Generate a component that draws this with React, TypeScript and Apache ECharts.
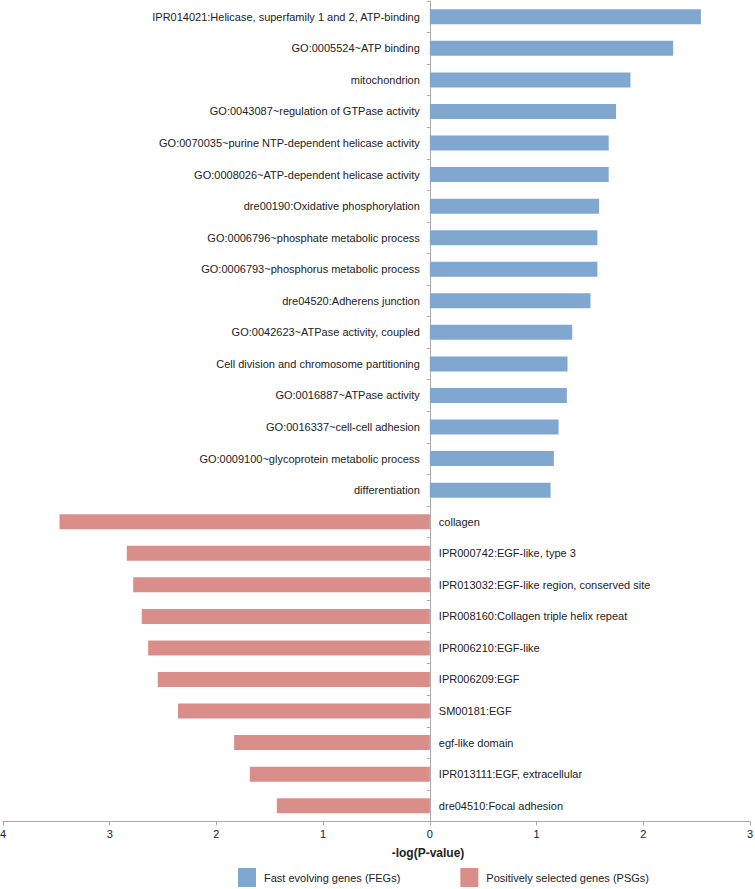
import React, { useEffect, useRef } from "react";
import * as echarts from "echarts";

const categories: string[] = [
  "IPR014021:Helicase, superfamily 1 and 2, ATP-binding",
  "GO:0005524~ATP binding",
  "mitochondrion",
  "GO:0043087~regulation of GTPase activity",
  "GO:0070035~purine NTP-dependent helicase activity",
  "GO:0008026~ATP-dependent helicase activity",
  "dre00190:Oxidative phosphorylation",
  "GO:0006796~phosphate metabolic process",
  "GO:0006793~phosphorus metabolic process",
  "dre04520:Adherens junction",
  "GO:0042623~ATPase activity, coupled",
  "Cell division and chromosome partitioning",
  "GO:0016887~ATPase activity",
  "GO:0016337~cell-cell adhesion",
  "GO:0009100~glycoprotein metabolic process",
  "differentiation",
  "collagen",
  "IPR000742:EGF-like, type 3",
  "IPR013032:EGF-like region, conserved site",
  "IPR008160:Collagen triple helix repeat",
  "IPR006210:EGF-like",
  "IPR006209:EGF",
  "SM00181:EGF",
  "egf-like domain",
  "IPR013111:EGF, extracellular",
  "dre04510:Focal adhesion",
];

// -log(P-value) for fast evolving genes (first 16 categories)
const fegValues: number[] = [
  2.54, 2.28, 1.88, 1.745, 1.676, 1.676, 1.586, 1.57, 1.57, 1.505, 1.334, 1.29,
  1.284, 1.206, 1.162, 1.131,
];

// -log(P-value) for positively selected genes (last 10 categories), drawn leftwards
const psgValues: number[] = [3.47, 2.84, 2.78, 2.7, 2.64, 2.55, 2.36, 1.834, 1.687, 1.434];

const xTicks = { min: -4, max: 3, interval: 1 };

const seriesNames = ["Fast evolving genes (FEGs)", "Positively selected genes (PSGs)"];
const colors = ["#80A7CF", "#DA8E8A"];

export default function App() {
  const ref = useRef<HTMLDivElement>(null);

  useEffect(() => {
    if (!ref.current) return;
    const chart = echarts.init(ref.current, null, { renderer: "svg" });
    const nBlue = fegValues.length;
    const blueData = categories.map((_, i) => (i < nBlue ? fegValues[i] : "-"));
    const redData = categories.map((_, i) => (i >= nBlue ? -psgValues[i - nBlue] : "-"));
    const font = "'Liberation Sans', Arial, sans-serif";
    const axisGray = "#a9a9a9";
    const textColor = "#222";
    const labelBase = {
      show: true,
      fontSize: 11,
      color: textColor,
      fontFamily: font,
      formatter: (p: any) => categories[p.dataIndex],
    };

    chart.setOption({
      animation: false,
      backgroundColor: "#ffffff",
      textStyle: { fontFamily: font },
      grid: {
        left: 3,
        right: 5,
        top: 1,
        bottom: 67.5,
        containLabel: false,
        outerBoundsMode: "none",
      },
      legend: {
        left: 238,
        top: 868,
        padding: 0,
        itemWidth: 18,
        itemHeight: 19,
        itemGap: 60,
        icon: "rect",
        data: seriesNames,
        textStyle: { fontSize: 11, color: textColor, fontFamily: font, padding: [0, 0, 0, 3] },
      },
      graphic: [
        {
          type: "text",
          x: 428,
          y: 853,
          style: {
            text: "-log(P-value)",
            fontSize: 12,
            fontWeight: "bold",
            fontFamily: font,
            fill: textColor,
            textAlign: "center",
            textVerticalAlign: "middle",
          },
        },
      ],
      xAxis: {
        type: "value",
        min: xTicks.min,
        max: xTicks.max,
        interval: xTicks.interval,
        splitLine: { show: false },
        axisLine: { show: true, lineStyle: { color: axisGray, width: 1 } },
        axisTick: { show: true, length: 4, lineStyle: { color: axisGray } },
        axisLabel: {
          formatter: (v: number) => String(Math.abs(v)),
          fontSize: 11,
          color: textColor,
          margin: 7,
          fontFamily: font,
        },
      },
      yAxis: {
        type: "category",
        data: categories,
        inverse: true,
        position: "left",
        axisLine: { show: true, onZero: true, lineStyle: { color: axisGray, width: 1 } },
        axisTick: { show: true, length: 3, lineStyle: { color: axisGray } },
        axisLabel: { show: false },
      },
      series: [
        {
          name: seriesNames[0],
          type: "bar",
          data: blueData,
          barWidth: 15,
          barGap: "-100%",
          itemStyle: { color: colors[0] },
          label: { ...labelBase, position: "left", distance: 10 },
        },
        {
          name: seriesNames[1],
          type: "bar",
          data: redData,
          barWidth: 15,
          barGap: "-100%",
          itemStyle: { color: colors[1] },
          label: { ...labelBase, position: "right", distance: 9 },
        },
      ],
    });

    return () => chart.dispose();
  }, []);

  return (
    <div
      ref={ref}
      style={{ position: "fixed", left: 0, top: 0, width: 755, height: 889, background: "#fff" }}
    />
  );
}
